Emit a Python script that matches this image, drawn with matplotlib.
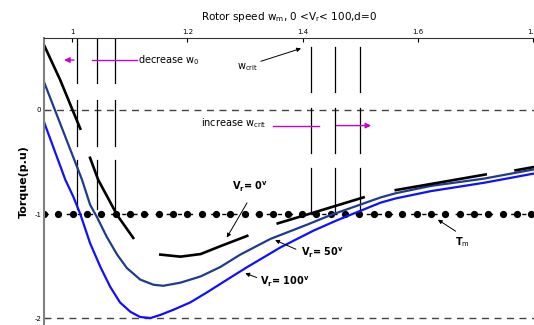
import numpy as np
import matplotlib
matplotlib.use("Agg")
from matplotlib import pyplot as plt

# torque-speed curves (speed in p.u., torque in p.u.)
w_vr100 = [0.951, 0.988, 1.002, 1.014, 1.031, 1.049, 1.066, 1.083, 1.101, 1.118, 1.136, 1.153,
           1.176, 1.205, 1.235, 1.275, 1.304, 1.362, 1.419, 1.460, 1.536, 1.562, 1.623, 1.715, 1.803]
t_vr100 = [-0.115, -0.67, -0.835, -1.0, -1.28, -1.51, -1.70, -1.85, -1.94, -1.99, -2.0, -1.97,
           -1.92, -1.85, -1.75, -1.61, -1.51, -1.32, -1.16, -1.06, -0.89, -0.85, -0.78, -0.70, -0.61]

w_vr50 = [0.951, 1.017, 1.031, 1.043, 1.060, 1.078, 1.095, 1.118, 1.141, 1.158, 1.188, 1.223,
          1.257, 1.292, 1.344, 1.409, 1.449, 1.536, 1.562, 1.623, 1.715, 1.803]
t_vr50 = [0.27, -0.67, -0.91, -1.03, -1.22, -1.39, -1.52, -1.63, -1.68, -1.69, -1.66, -1.60,
          -1.51, -1.39, -1.24, -1.10, -1.01, -0.84, -0.80, -0.73, -0.66, -0.57]

# Vr = 0 curve is drawn in separate pieces
vr0_segments = [
    ([0.951, 0.979, 1.014], [0.625, 0.29, -0.18]),
    ([1.031, 1.045, 1.078, 1.092, 1.106], [-0.46, -0.67, -1.01, -1.12, -1.23]),
    ([1.153, 1.188, 1.223, 1.257, 1.304], [-1.39, -1.41, -1.385, -1.31, -1.21]),
    ([1.357, 1.423, 1.506], [-1.09, -0.98, -0.84]),
    ([1.562, 1.718], [-0.77, -0.62]),
    ([1.770, 1.800], [-0.58, -0.55]),
]

t_m = -1.0
w_crit_left = [1.008, 1.043, 1.075]
w_crit_right = [1.414, 1.456, 1.499]
# vertical pieces (top, bottom) of the marker lines
left_pieces = [(0.683, 0.26), (0.096, -0.346), (-0.48, -0.95)]
right_pieces = [(0.606, 0.173), (0.019, -0.413), (-0.558, -0.99)]

fig = plt.figure(figsize=(5.34, 3.25), dpi=100)
ax = fig.add_axes([44/534, 0.0, 490/534, 287/325])

ax.set_xlim(0.951, 1.802)
ax.set_ylim(-2.067, 0.692)

# reference lines
ax.axhline(0, color="#444444", lw=1.0, ls=(0, (5, 4)))
ax.axhline(-2, color="#444444", lw=1.0, ls=(0, (5, 4)))
ax.axhline(t_m, color="black", lw=1.0, ls=(0, (3, 5)))
dots = np.arange(0.951, 1.80, 0.0249)
ax.plot(dots, np.full(len(dots), t_m), ls="none", marker="o", ms=4.2, color="black")

for x in w_crit_left:
    for top, bot in left_pieces:
        ax.plot([x, x], [top, bot], color="black", lw=0.9)
for x in w_crit_right:
    for top, bot in right_pieces:
        ax.plot([x, x], [top, bot], color="black", lw=0.9)

ax.plot(w_vr100, t_vr100, color="#1010ff", lw=1.6, solid_joinstyle="round")
ax.plot(w_vr50, t_vr50, color="#1f3c8c", lw=1.6, solid_joinstyle="round")
for ws, ts in vr0_segments:
    ax.plot(ws, ts, color="black", lw=1.9, solid_joinstyle="round")

# magenta arrows
mag = "#cc00cc"
ax.plot([1.113, 1.034], [0.48, 0.48], color=mag, lw=1.0)
ax.annotate("", xy=(0.981, 0.48), xytext=(1.008, 0.48),
            arrowprops=dict(arrowstyle="-|>", color=mag, lw=1.0, mutation_scale=8))
ax.plot([1.348, 1.428], [-0.15, -0.15], color=mag, lw=1.0)
ax.annotate("", xy=(1.524, -0.15), xytext=(1.454, -0.15),
            arrowprops=dict(arrowstyle="-|>", color=mag, lw=1.0, mutation_scale=8))

ax.text(1.114, 0.48, "decrease w$_0$", fontsize=7, va="center", ha="left")
ax.text(1.223, -0.125, "increase w$_{\\rm crit}$", fontsize=7, va="center", ha="left")
ax.text(1.287, 0.41, "w$_{\\rm crit}$", fontsize=7, va="center", ha="left")
ax.annotate("", xy=(1.402, 0.60), xytext=(1.323, 0.46),
            arrowprops=dict(arrowstyle="-|>", color="black", lw=0.7, mutation_scale=6))

bold = dict(fontsize=7, fontweight="bold", va="center", ha="left")
ax.text(1.278, -0.74, "V$_{\\bf r}$= 0$^{\\bf v}$", **bold)
ax.annotate("", xy=(1.266, -1.25), xytext=(1.306, -0.87),
            arrowprops=dict(arrowstyle="-|>", color="black", lw=0.7, mutation_scale=6))
ax.text(1.398, -1.37, "V$_{\\bf r}$= 50$^{\\bf v}$", **bold)
ax.annotate("", xy=(1.348, -1.24), xytext=(1.393, -1.35),
            arrowprops=dict(arrowstyle="-|>", color="black", lw=0.7, mutation_scale=6))
ax.text(1.327, -1.65, "V$_{\\bf r}$= 100$^{\\bf v}$", **bold)
ax.annotate("", xy=(1.296, -1.56), xytext=(1.325, -1.62),
            arrowprops=dict(arrowstyle="-|>", color="black", lw=0.7, mutation_scale=6))
ax.text(1.665, -1.27, "T$_{\\rm m}$", fontsize=7, fontweight="bold", va="center", ha="left")
ax.annotate("", xy=(1.631, -1.04), xytext=(1.67, -1.18),
            arrowprops=dict(arrowstyle="-|>", color="black", lw=0.7, mutation_scale=6))

# axes styling
ax.xaxis.tick_top()
ax.xaxis.set_label_position("top")
ax.set_xticks([1.0, 1.2, 1.4, 1.6, 1.8])
ax.set_xticklabels(["1", "1.2", "1.4", "1.6", "1.8"])
ax.set_yticks([-2, -1, 0])
ax.set_yticklabels(["-2", "-1", "0"])
ax.tick_params(axis="both", direction="in", labelsize=5, length=3, width=0.8, pad=2)
ax.spines["right"].set_visible(False)
ax.spines["bottom"].set_visible(False)
ax.spines["left"].set_color("#808080")
ax.spines["left"].set_linewidth(1.5)
ax.spines["top"].set_color("#333333")
ax.set_xlabel("Rotor speed w$_{\\rm m}$, 0 <V$_{\\rm r}$< 100,d=0", fontsize=7.5, labelpad=7)
ax.set_ylabel("Torque(p.u)", fontsize=8, fontweight="bold", labelpad=4)

fig.savefig("out.png", dpi=100)
